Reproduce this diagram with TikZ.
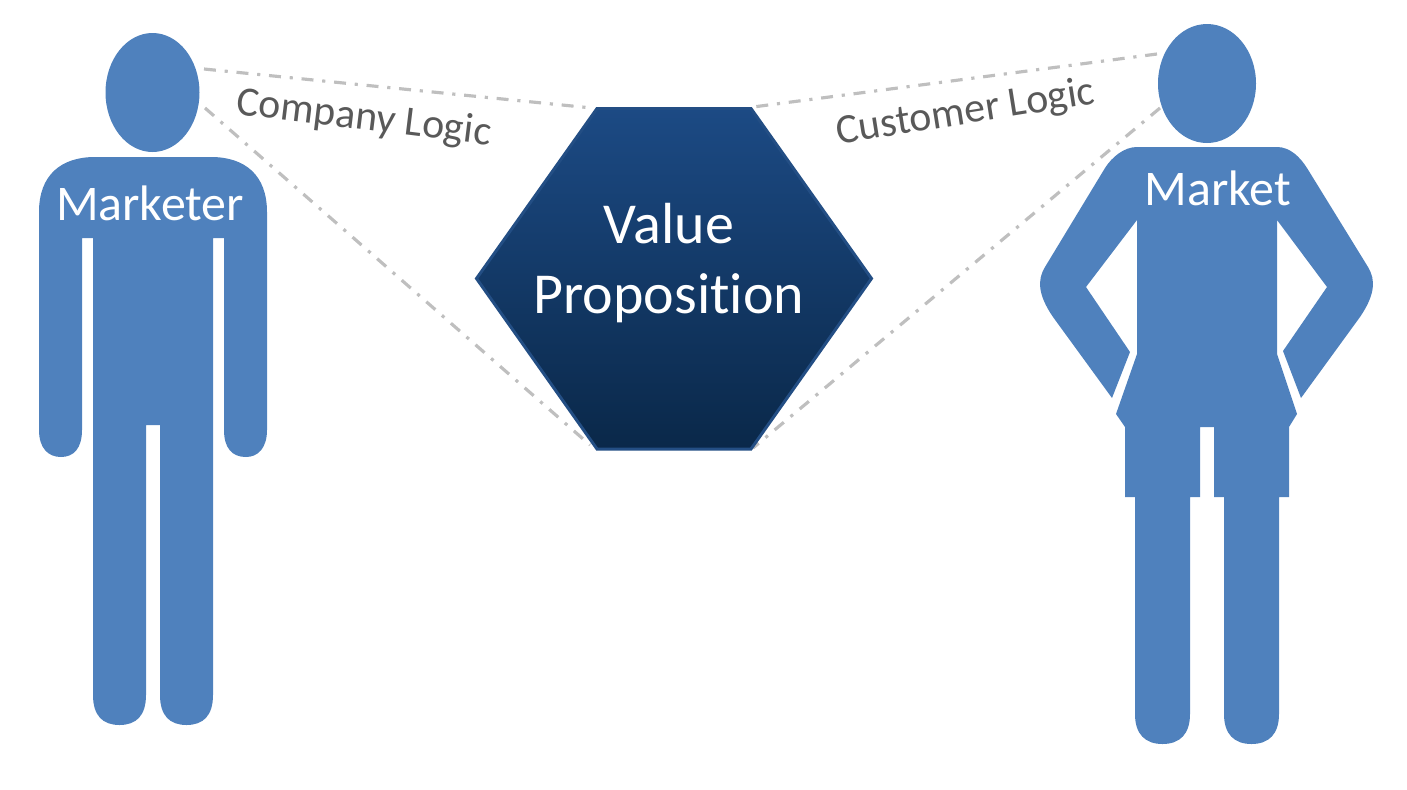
\documentclass[tikz,border=0pt]{standalone}
\usepackage{fontspec}
\setmainfont[Ligatures=NoCommon]{Carlito}
\usetikzlibrary{positioning,calc}
\definecolor{blu}{HTML}{4F81BD}
\definecolor{hextop}{HTML}{1C4A84}
\definecolor{hexbot}{HTML}{0A2849}
\definecolor{hexrim}{HTML}{234E84}
\definecolor{gry}{HTML}{BFBFBF}
\definecolor{txt}{HTML}{595959}
\tikzset{
 logic/.style={gry,line width=1.8pt,dash pattern=on 6.8pt off 5pt on 1.8pt off 5pt},
 figlabel/.style={white,font=\fontsize{28.4}{34}\selectfont},
 sidelabel/.style={txt,font=\fontsize{23.8}{28}\selectfont}
}
\begin{document}
\begin{tikzpicture}[x=0.02cm,y=-0.02cm]
 \useasboundingbox (0,0) rectangle (1407,789);
 % anchors of the connectors
 \coordinate (mkrA) at (204,69);
 \coordinate (mkrB) at (205,108);
 \coordinate (mktA) at (1157,54);
 \coordinate (mktB) at (1160,108);
 \coordinate (hexTL) at (592,108);
 \coordinate (hexBL) at (590,445);
 \coordinate (hexTR) at (753,107);
 \coordinate (hexBR) at (753,448);
 \draw[logic] (mkrA)--(hexTL);
 \draw[logic] (mkrB)--(hexBL);
 \draw[logic] (mktA)--(hexTR);
 \draw[logic] (mktB)--(hexBR);
 % marketer
 \fill[blu] (152.5,92.5) ellipse [x radius=47,y radius=59.5];
 \fill[blu] (95,157)--(211,157) .. controls (245,157) and (267,175) .. (267,212)
  --(267,430) .. controls (267,448) and (258,457) .. (246,457)
  .. controls (232,457) and (224,448) .. (224,430)--(224,238)--(213,238)
  --(213,695) .. controls (213,716) and (203,725) .. (186.5,725)
  .. controls (170,725) and (160,716) .. (160,695)--(160,425)--(146,425)
  --(146,695) .. controls (146,716) and (136,725) .. (119.5,725)
  .. controls (103,725) and (93,716) .. (93,695)--(93,238)--(82,238)
  --(82,430) .. controls (82,448) and (74,457) .. (61,457)
  .. controls (48,457) and (39,448) .. (39,430)--(39,212)
  .. controls (39,175) and (61,157) .. (95,157)--cycle;
 % market
 \fill[blu] (1207,83.5) ellipse [x radius=49,y radius=59.5];
 \fill[blu] (1137,147)--(1277,147) .. controls (1290,147) and (1300,157) .. (1307,168)
  --(1368,267) .. controls (1376,280) and (1375,295) .. (1360,317)
  --(1301,398)--(1283,351)--(1327,287)--(1277,220)--(1277,354)--(1297,414)--(1289,427)
  --(1289,497)--(1279,497)--(1279,714) .. controls (1279,734) and (1269,744) .. (1251.5,744)
  .. controls (1234,744) and (1224,734) .. (1224,714)--(1224,497)--(1214,497)
  --(1214,427)--(1200,427)--(1200,497)--(1190,497)--(1190,714)
  .. controls (1190,734) and (1180,744) .. (1162.5,744)
  .. controls (1145,744) and (1135,734) .. (1135,714)--(1135,497)--(1125,497)
  --(1125,427)--(1116,414)--(1137,354)--(1137,220)--(1086,287)--(1130,352)--(1112,398)
  --(1053,317) .. controls (1038,295) and (1037,280) .. (1045,267)
  --(1105,168) .. controls (1112,157) and (1124,147) .. (1137,147)--cycle;
 % hexagon
 \draw[hexrim,line width=1.7pt,top color=hextop,bottom color=hexbot]
  (476.5,278.5)--(597,108.5)--(751,108.5)--(871.5,278.5)--(751,449)--(597,449)--cycle;
 \node[white,align=center,font=\fontsize{33}{40}\selectfont] (valprop) at (669,263) {Value\\Proposition};
 \node[figlabel] (marketer) at (150,203) {Marketer};
 \node[figlabel] (market) at (1218,188) {Market};
 \node[sidelabel,rotate=-7] (company) at (364,119) {Company Logic};
 \node[sidelabel,rotate=9] (customer) at (966,113) {Customer Logic};
\end{tikzpicture}
\end{document}
